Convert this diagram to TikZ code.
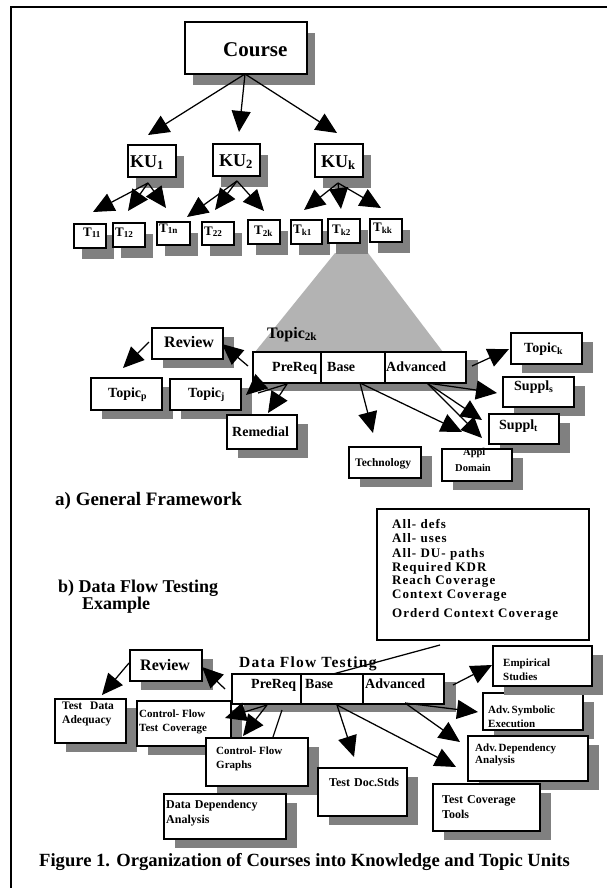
\documentclass[tikz,border=0pt]{standalone}
\usepackage{fontspec}
\setmainfont{Liberation Serif}
\newfontfamily\spacedfont{Liberation Serif}[LetterSpace=8]
\usetikzlibrary{arrows.meta,shadows}
\definecolor{shgray}{HTML}{808080}
\definecolor{wedgegray}{HTML}{B3B3B3}
\newcommand\fsz[1]{\fontsize{#1}{#1}\selectfont\bfseries}
\tikzset{
  boxbase/.style={draw, line width=1.7pt, fill=white, inner sep=0pt, anchor=north west},
  boxhi/.style={boxbase, general shadow={shadow xshift=8pt, shadow yshift=-11pt, fill=shgray}},
  boxlo/.style={boxbase, general shadow={shadow xshift=11pt, shadow yshift=-9pt, fill=shgray}},
  plainbox/.style={boxbase},
  txt/.style={inner sep=0pt, anchor=base west},
  arr/.style={line width=1.25pt, -{Triangle[length=21pt,width=19pt]}},
  plainline/.style={line width=1.25pt},
  divider/.style={line width=1.7pt},
}
\begin{document}
\begin{tikzpicture}[x=1pt,y=-1pt]
\useasboundingbox (0,0) rectangle (607,888);
\fill[white] (0,0) rectangle (607,888);
% outer frame
\draw[line width=2pt] (11,900) -- (11,7.5) -- (620,7.5);

% wedge opening Topic 2k
\fill[wedgegray] (335,253) -- (368,253) -- (443,352) -- (255,352) -- cycle;

% ---------- course hierarchy ----------
\node[boxhi, minimum width=122pt, minimum height=52pt] (course) at (184,21) {};
\node[txt, font=\fsz{21}] (courseT) at (223,57) {Course};

\node[boxhi, minimum width=48pt, minimum height=32pt] (ku1) at (127,144) {};
\node[boxhi, minimum width=47pt, minimum height=32pt] (ku2) at (212,143) {};
\node[boxhi, minimum width=48pt, minimum height=33pt] (kuk) at (314,143) {};
\node[txt, font=\fsz{18}] (ku1T) at (130,167) {KU\textsubscript{1}};
\node[txt, font=\fsz{18}] (ku2T) at (219,166) {KU\textsubscript{2}};
\node[txt, font=\fsz{18}] (kukT) at (321,167) {KU\textsubscript{k}};

\node[boxhi, minimum width=32pt, minimum height=24pt] (t11) at (73,223) {};
\node[boxhi, minimum width=32pt, minimum height=24pt] (t12) at (112,222) {};
\node[boxhi, minimum width=33pt, minimum height=23pt] (t1n) at (156,221) {};
\node[boxhi, minimum width=32pt, minimum height=23pt] (t22) at (201,221) {};
\node[boxhi, minimum width=32pt, minimum height=24pt] (t2k) at (247,219) {};
\node[boxhi, minimum width=31pt, minimum height=24pt] (tk1) at (290,219) {};
\node[boxhi, minimum width=32pt, minimum height=24pt] (tk2) at (327,218) {};
\node[boxhi, minimum width=32pt, minimum height=23pt] (tkk) at (369,218) {};
\node[txt, font=\fsz{13}] (t11T) at (83,236) {T\textsubscript{11}};
\node[txt, font=\fsz{13}] (t12T) at (115,236) {T\textsubscript{12}};
\node[txt, font=\fsz{13}] (t1nT) at (159,232) {T\textsubscript{1n}};
\node[txt, font=\fsz{13}] (t22T) at (204,235) {T\textsubscript{22}};
\node[txt, font=\fsz{13}] (t2kT) at (254,234) {T\textsubscript{2k}};
\node[txt, font=\fsz{13}] (tk1T) at (293,233) {T\textsubscript{k1}};
\node[txt, font=\fsz{13}] (tk2T) at (332,233) {T\textsubscript{k2}};
\node[txt, font=\fsz{13}] (tkkT) at (373,231) {T\textsubscript{kk}};

\draw[arr] ([shift={(61,53)}]course.north west) -- ([shift={(21,-9)}]ku1.north west);
\draw[arr] ([shift={(61,53)}]course.north west) -- ([shift={(27,-11)}]ku2.north west);
\draw[arr] ([shift={(61,53)}]course.north west) -- ([shift={(23,-10)}]kuk.north west);
\draw[arr] ([shift={(21,39)}]ku1.north west) -- ([shift={(20,-11)}]t11.north west);
\draw[arr] ([shift={(21,39)}]ku1.north west) -- ([shift={(16,-11)}]t12.north west);
\draw[arr] ([shift={(21,39)}]ku1.north west) -- ([shift={(10,-13)}]t1n.north west);
\draw[arr] ([shift={(25,38)}]ku2.north west) -- ([shift={(31,-4)}]t1n.north west);
\draw[arr] ([shift={(25,38)}]ku2.north west) -- ([shift={(14,-11)}]t22.north west);
\draw[arr] ([shift={(25,38)}]ku2.north west) -- ([shift={(17,-8)}]t2k.north west);
\draw[arr] ([shift={(24,40)}]kuk.north west) -- ([shift={(14,-9)}]tk1.north west);
\draw[arr] ([shift={(24,40)}]kuk.north west) -- ([shift={(14,-9)}]tk2.north west);
\draw[arr] ([shift={(24,40)}]kuk.north west) -- ([shift={(12,-10)}]tkk.north west);

% ---------- a) topic unit ----------
\node[txt, font=\fsz{16}] (topic2kT) at (267,338) {Topic\textsubscript{2k}};
\node[boxbase, minimum width=213pt, minimum height=31pt,
      general shadow={shadow xshift=12pt, shadow yshift=-8pt, fill=shgray}] (tp) at (252,351) {};
\draw[divider] ([xshift=69pt]tp.north west) -- ([xshift=69pt]tp.south west);
\draw[divider] ([xshift=133pt]tp.north west) -- ([xshift=133pt]tp.south west);
\node[txt, font=\fsz{14}] (tpPre) at (272,371) {PreReq};
\node[txt, font=\fsz{14}] (tpBase) at (327,371) {Base};
\node[txt, font=\fsz{14}] (tpAdv) at (386,371) {Advanced};

\node[boxlo, minimum width=71pt, minimum height=31pt] (reviewa) at (151,327) {};
\node[txt, font=\fsz{16}] (reviewaT) at (164,347) {Review};
\node[boxlo, minimum width=71pt, minimum height=32pt] (topicp) at (90,377) {};
\node[txt, font=\fsz{14}] (topicpT) at (108,397) {Topic\textsubscript{p}};
\node[boxlo, minimum width=71pt, minimum height=31pt] (topicj) at (169,378) {};
\node[txt, font=\fsz{14}] (topicjT) at (188,397) {Topic\textsubscript{j}};
\node[boxlo, minimum width=70pt, minimum height=34pt] (remedial) at (226,414) {};
\node[txt, font=\fsz{14}] (remedialT) at (232,436) {Remedial};
\node[boxlo, minimum width=71pt, minimum height=31pt] (topick) at (510,332) {};
\node[txt, font=\fsz{14}] (topickT) at (524,352) {Topic\textsubscript{k}};
\node[boxlo, minimum width=71pt, minimum height=30pt] (suppls) at (502,376) {};
\node[txt, font=\fsz{14}] (supplsT) at (514,390) {Suppl\textsubscript{s}};
\node[boxlo, minimum width=70pt, minimum height=30pt] (supplt) at (488,413) {};
\node[txt, font=\fsz{14}] (suppltT) at (499,429) {Suppl\textsubscript{t}};
\node[boxlo, minimum width=72pt, minimum height=31pt] (tech) at (348,446) {};
\node[txt, font=\fsz{11.5}] (techT) at (355,466) {Technology};
\node[boxlo, minimum width=70pt, minimum height=32pt] (appl) at (441,448) {};
\node[txt, font=\fsz{10.5}] (applT) at (463,455) {Appl};
\node[txt, font=\fsz{10.5}] (domainT) at (455,471) {Domain};

\draw[arr] ([shift={(-2,15)}]reviewa.north west) -- ([shift={(33,-9)}]topicp.north west);
\draw[arr] ([shift={(-4,15)}]tp.north west) -- ([shift={(71,17)}]reviewa.north west);
\draw[arr] ([shift={(10,30)}]tp.north west) -- ([shift={(77,17)}]topicj.north west);
\draw[plainline] ([shift={(35,33)}]tp.north west) -- ([shift={(89,15)}]topicj.north west);
\draw[arr] ([shift={(35,33)}]tp.north west) -- ([shift={(42,-1)}]remedial.north west);
\draw[arr] ([shift={(108,32)}]tp.north west) -- ([shift={(25,-13)}]tech.north west);
\draw[arr] ([shift={(108,32)}]tp.north west) -- ([shift={(21,-16)}]appl.north west);
\draw[arr] ([shift={(220,15)}]tp.north west) -- ([shift={(-1,17)}]topick.north west);
\draw[arr] ([shift={(175,32)}]tp.north west) -- ([shift={(-5,17)}]suppls.north west);
\draw[arr] ([shift={(175,32)}]tp.north west) -- ([shift={(-6,7)}]supplt.north west);
\draw[arr] ([shift={(175,32)}]tp.north west) -- ([shift={(41,-10)}]appl.north west);

\node[txt, font=\fsz{19}] (capA) at (55,505) {a) General Framework};

% ---------- b) data flow testing ----------
\node[plainbox, minimum width=212pt, minimum height=131pt] (crit) at (376,508) {};
\node[txt, font=\spacedfont\fsz{13}] (c1) at (392,528) {All- defs};
\node[txt, font=\spacedfont\fsz{13}] (c2) at (392,542) {All- uses};
\node[txt, font=\spacedfont\fsz{13}] (c3) at (392,557) {All- DU- paths};
\node[txt, font=\spacedfont\fsz{13}] (c4) at (392,571) {Required KDR};
\node[txt, font=\spacedfont\fsz{13}] (c5) at (392,584) {Reach Coverage};
\node[txt, font=\spacedfont\fsz{13}] (c6) at (392,598) {Context Coverage};
\node[txt, font=\spacedfont\fsz{13}] (c7) at (392,617) {Orderd Context Coverage};

\node[txt, font=\fsz{18}] (capB1) at (58,592) {b) Data Flow Testing};
\node[txt, font=\fsz{18}] (capB2) at (82,609) {Example};

\node[txt, font=\spacedfont\fsz{15.5}] (dftT) at (239,667) {Data Flow Testing};
\node[boxbase, minimum width=212pt, minimum height=30pt,
      general shadow={shadow xshift=12pt, shadow yshift=-8pt, fill=shgray}] (tpb) at (231,673) {};
\draw[divider] ([xshift=70pt]tpb.north west) -- ([xshift=70pt]tpb.south west);
\draw[divider] ([xshift=132pt]tpb.north west) -- ([xshift=132pt]tpb.south west);
\node[txt, font=\fsz{14}] (tpbPre) at (251,688) {PreReq};
\node[txt, font=\fsz{14}] (tpbBase) at (305,688) {Base};
\node[txt, font=\fsz{14}] (tpbAdv) at (365,688) {Advanced};

\node[boxlo, minimum width=72pt, minimum height=31pt] (reviewb) at (129,649) {};
\node[txt, font=\fsz{16}] (reviewbT) at (140,670) {Review};
\node[boxlo, minimum width=71pt, minimum height=44pt] (tda) at (54,698) {};
\node[txt, font=\fsz{11.5}] (tda1) at (62,709) {Test\hspace{8pt}Data};
\node[txt, font=\fsz{11.5}] (tda2) at (62,723) {Adequacy};
\node[boxlo, minimum width=94pt, minimum height=45pt] (cftc) at (136,700) {};
\node[txt, font=\fsz{11}] (cftc1) at (139,717) {Control- Flow};
\node[txt, font=\fsz{11}] (cftc2) at (139,731) {Test\hspace{4pt}Coverage};
\node[boxlo, minimum width=102pt, minimum height=48pt] (cfg) at (205,737) {};
\node[txt, font=\fsz{11}] (cfg1) at (216,754) {Control- Flow};
\node[txt, font=\fsz{11}] (cfg2) at (216,768) {Graphs};
\node[boxlo, minimum width=122pt, minimum height=45pt] (dda) at (163,793) {};
\node[txt, font=\fsz{12}] (dda1) at (166,808) {Data\hspace{4pt}Dependency};
\node[txt, font=\fsz{12}] (dda2) at (166,823) {Analysis};
\node[boxlo, minimum width=89pt, minimum height=48pt] (tds) at (317,767) {};
\node[txt, font=\fsz{12}] (tdsT) at (329,786) {Test\hspace{4pt}Doc.Stds};
\node[boxlo, minimum width=100pt, minimum height=37pt] (asx) at (482,692) {};
\node[txt, font=\fsz{11}] (asx1) at (488,713) {Adv.\,Symbolic};
\node[txt, font=\fsz{11}] (asx2) at (488,727) {Execution};
\node[boxlo, minimum width=120pt, minimum height=45pt] (add) at (467,735) {};
\node[txt, font=\fsz{11}] (add1) at (475,751) {Adv.\,Dependency};
\node[txt, font=\fsz{11}] (add2) at (475,763) {Analysis};
\node[boxlo, minimum width=107pt, minimum height=47pt] (tct) at (432,783) {};
\node[txt, font=\fsz{12}] (tct1) at (442,803) {Test\hspace{4pt}Coverage};
\node[txt, font=\fsz{12}] (tct2) at (442,818) {Tools};
\node[boxlo, minimum width=99pt, minimum height=40pt] (emp) at (492,645) {};
\node[txt, font=\fsz{11}] (emp1) at (503,666) {Empirical};
\node[txt, font=\fsz{11}] (emp2) at (503,680) {Studies};

\draw[arr] ([shift={(0,14)}]reviewb.north west) -- ([shift={(48,-3)}]tda.north west);
\draw[arr] ([shift={(-6,16)}]tpb.north west) -- ([shift={(73,18)}]reviewb.north west);
\draw[arr] ([shift={(36,32)}]tpb.north west) -- ([shift={(89,18)}]cftc.north west);
\draw[arr] ([shift={(36,32)}]tpb.north west) -- ([shift={(38,-1)}]cfg.north west);
\draw[plainline] ([shift={(51,37)}]tpb.north west) -- ([shift={(68,0)}]cfg.north west);
\draw[arr] ([shift={(106,32)}]tpb.north west) -- ([shift={(37,-10)}]tds.north west);
\draw[arr] ([shift={(106,32)}]tpb.north west) -- ([shift={(24,-16)}]tct.north west);
\draw[arr] ([shift={(222,12)}]tpb.north west) -- ([shift={(0,20)}]emp.north west);
\draw[arr] ([shift={(174,30)}]tpb.north west) -- ([shift={(-4,20)}]asx.north west);
\draw[arr] ([shift={(174,30)}]tpb.north west) -- ([shift={(-7,7)}]add.north west);
\draw[plainline] ([shift={(64,137)}]crit.north west) -- ([shift={(102,1)}]tpb.north west);

\node[txt, font=\fsz{18.6}] (caption) at (39,866) {Figure 1. Organization of Courses into Knowledge and Topic Units};
\end{tikzpicture}
\end{document}
